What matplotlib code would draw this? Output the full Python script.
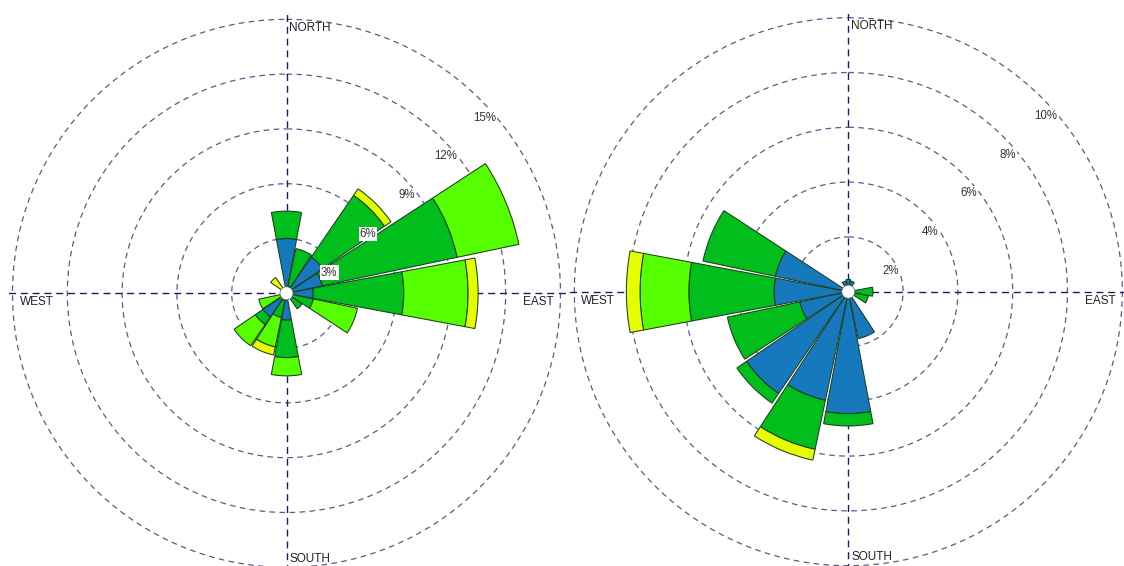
import numpy as np
import matplotlib
matplotlib.use("Agg")
import matplotlib.pyplot as plt
from matplotlib.patches import Circle

plt.rcParams['font.family'] = ['Liberation Sans', 'DejaVu Sans']

directions = ["N", "NNE", "NE", "ENE", "E", "ESE", "SE", "SSE",
              "S", "SSW", "SW", "WSW", "W", "WNW", "NW", "NNW"]

# frequency (%) per direction for each speed class, innermost class first
left_class1 = [3.00, 0.40, 2.40, 2.00, 1.46, 0.20, 0.20, 0.00,
               1.47, 0.40, 1.56, 0.00, 0.00, 0.00, 0.00, 0.00]
left_class2 = [1.50, 2.10, 4.10, 7.55, 4.96, 1.30, 0.83, 0.00,
               2.05, 0.95, 0.51, 0.30, 0.00, 0.00, 0.00, 0.00]
left_class3 = [0.00, 0.00, 0.00, 3.45, 3.52, 2.47, 0.00, 0.00,
               1.00, 1.65, 1.41, 1.25, 0.00, 0.00, 0.00, 0.00]
left_class4 = [0.00, 0.00, 0.43, 0.00, 0.55, 0.00, 0.00, 0.00,
               0.00, 0.45, 0.00, 0.00, 0.00, 0.00, 1.05, 0.00]

right_class1 = [0.45, 0.40, 0.00, 0.00, 0.10, 0.10, 0.00, 1.75,
                4.45, 4.05, 4.50, 1.81, 2.71, 2.72, 0.00, 0.40]
right_class2 = [0.00, 0.00, 0.00, 0.00, 0.80, 0.65, 0.00, 0.00,
                0.45, 1.83, 0.43, 2.70, 3.11, 2.70, 0.00, 0.00]
right_class3 = [0.00, 0.00, 0.00, 0.00, 0.00, 0.00, 0.00, 0.00,
                0.00, 0.00, 0.00, 0.00, 1.78, 0.00, 0.00, 0.00]
right_class4 = [0.00, 0.00, 0.00, 0.00, 0.00, 0.00, 0.00, 0.00,
                0.00, 0.40, 0.00, 0.00, 0.50, 0.00, 0.00, 0.00]

left_rings = [3, 6, 9, 12, 15]
right_rings = [2, 4, 6, 8, 10]

class_colors = ["#1679bd", "#00bf1d", "#55ff00", "#e4ff00"]
edge_color = "#1c3d1c"
ring_color = "#5a5a8c"
axis_color = "#1a1a66"

FIG_W, FIG_H = 1124, 566
RADIUS_PX = 274
HOLE_PX = 6.5


def draw_rose(fig, center_px, layers, rings):
    cx, cy = center_px
    left = (cx - RADIUS_PX) / FIG_W
    bottom = (FIG_H - cy - RADIUS_PX) / FIG_H
    ax = fig.add_axes([left, bottom, 2 * RADIUS_PX / FIG_W, 2 * RADIUS_PX / FIG_H],
                      projection='polar')
    ax.set_theta_zero_location('N')
    ax.set_theta_direction(-1)
    rmax = rings[-1]
    ax.set_ylim(0, rmax)
    ax.set_axis_off()

    # dashed rings
    tt = np.linspace(0, 2 * np.pi, 721)
    for r in rings:
        ax.plot(tt, np.full_like(tt, r), ls=(0, (4.5, 3.5)), color=ring_color,
                lw=0.9, zorder=1, clip_on=False)
    # compass axes
    for ang in (0, 90, 180, 270):
        a = np.deg2rad(ang)
        ax.plot([a, a], [0, rmax * 1.02], ls=(0, (5, 3.5)), color=axis_color,
                lw=1.0, zorder=1, clip_on=False)

    # stacked sectors
    theta = np.deg2rad(np.arange(len(directions)) * 22.5)
    width = np.deg2rad(21.2)
    base = np.zeros(len(directions))
    for vals, col in zip(layers, class_colors):
        vals = np.asarray(vals, dtype=float)
        mask = vals > 0
        ax.bar(theta[mask], vals[mask], width=width, bottom=base[mask],
               color=col, edgecolor=edge_color, linewidth=0.75, zorder=3)
        base = base + vals

    # calm hole
    ax.add_patch(Circle((0.5, 0.5), HOLE_PX / (2 * RADIUS_PX), transform=ax.transAxes,
                        facecolor='white', edgecolor='#666666', linewidth=0.5, zorder=5))

    # ring labels
    for r in rings:
        a = np.deg2rad(45)
        ax.annotate(f"{r}%", xy=(a, r), xytext=(4, -18), textcoords='offset pixels',
                    ha='center', va='center', fontsize=8.3, color='#333333', zorder=6,
                    annotation_clip=False,
                    bbox=dict(boxstyle='square,pad=0.1', facecolor='white',
                              edgecolor='none'))

    # compass labels
    rl = rmax * 0.968
    ax.annotate("NORTH", xy=(0, rl), xytext=(3, 0), textcoords='offset pixels',
                ha='left', va='center', fontsize=8.5, color='#222222', annotation_clip=False)
    ax.annotate("SOUTH", xy=(np.pi, rl), xytext=(3, 0), textcoords='offset pixels',
                ha='left', va='center', fontsize=8.5, color='#222222', annotation_clip=False)
    ax.annotate("WEST", xy=(1.5 * np.pi, rmax * 0.985), xytext=(3, -9),
                textcoords='offset pixels', ha='left', va='center', fontsize=8.5,
                color='#222222', annotation_clip=False)
    ax.annotate("EAST", xy=(0.5 * np.pi, rmax * 0.985), xytext=(-3, -9),
                textcoords='offset pixels', ha='right', va='center', fontsize=8.5,
                color='#222222', annotation_clip=False)
    return ax


fig = plt.figure(figsize=(FIG_W / 100, FIG_H / 100), dpi=100)
fig.patch.set_facecolor('white')
draw_rose(fig, (286.5, 293.3), [left_class1, left_class2, left_class3, left_class4], left_rings)
draw_rose(fig, (848.3, 291.7), [right_class1, right_class2, right_class3, right_class4], right_rings)
fig.savefig("out.png", dpi=100, facecolor='white')
